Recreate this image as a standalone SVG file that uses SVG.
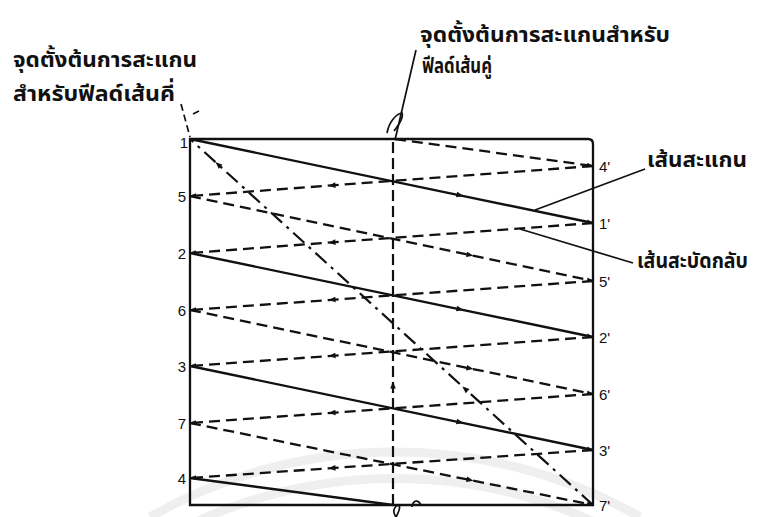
<svg xmlns="http://www.w3.org/2000/svg" width="775" height="517" viewBox="0 0 775 517">
<style>
.thai{font-family:"Noto Sans Thai","Noto Sans","DejaVu Sans",sans-serif;font-size:22px;font-weight:bold;fill:#111}
.num{font-family:"Liberation Sans",Arial,sans-serif;font-size:15px;fill:#111}
.solid{fill:none;stroke:#111;stroke-width:2.3}
.dash{fill:none;stroke:#111;stroke-width:2.3;stroke-dasharray:11 6}
.dashdot{fill:none;stroke:#111;stroke-width:2.2;stroke-dasharray:15 6 3 6}
.vdash{fill:none;stroke:#111;stroke-width:2.2;stroke-dasharray:11 5}
.lead{fill:none;stroke:#111;stroke-width:1.7}
.wm{fill:none;stroke:#efefef;stroke-width:9}
</style>
<defs>
<marker id="m" viewBox="0 0 10 10" refX="5" refY="5" markerWidth="10" markerHeight="7" orient="auto" markerUnits="userSpaceOnUse"><path d="M0,1 L10,5 L0,9 z" fill="#111"/></marker>
<marker id="e" viewBox="0 0 10 10" refX="10" refY="5" markerWidth="8" markerHeight="6" orient="auto" markerUnits="userSpaceOnUse"><path d="M0,1 L10,5 L0,9 z" fill="#111"/></marker>
</defs>
<rect width="775" height="517" fill="#fff"/>
<g id="watermark">
<path class="wm" d="M150,517 A494,494 0 0 1 640,517"/>
<path class="wm" d="M170,517 A476,476 0 0 1 620,517" transform="translate(0,18)"/>
</g>
<g id="frame">
<path class="solid" stroke-width="2.6" d="M190,139 L588,139 Q593,139 593,144 L593,505 L190,505 Z"/>
</g>
<g id="connectors">
<polyline class="solid" points="190,139 460,195.3 593,223" marker-mid="url(#m)" marker-end="url(#e)"/>
<polyline class="solid" points="190,253 460,309.3 593,337" marker-mid="url(#m)" marker-end="url(#e)"/>
<polyline class="solid" points="190,366 460,422.3 593,450" marker-mid="url(#m)" marker-end="url(#e)"/>
<polyline class="solid" points="190,478 393,505"/>
<polyline class="dash" points="395,139 593,166" marker-end="url(#e)"/>
<polyline class="dash" points="190,196 470,255.1 593,281" marker-mid="url(#m)" marker-end="url(#e)"/>
<polyline class="dash" points="190,310 470,368.4 593,394" marker-mid="url(#m)" marker-end="url(#e)"/>
<polyline class="dash" points="190,423 470,480 593,505" marker-mid="url(#m)" marker-end="url(#e)"/>
<polyline class="dash" points="593,166 332,185.4 190,196" marker-mid="url(#m)" marker-end="url(#e)"/>
<polyline class="dash" points="593,223 332,242.4 190,253" marker-mid="url(#m)" marker-end="url(#e)"/>
<polyline class="dash" points="593,281 332,299.8 190,310" marker-mid="url(#m)" marker-end="url(#e)"/>
<polyline class="dash" points="593,337 332,355.8 190,366" marker-mid="url(#m)" marker-end="url(#e)"/>
<polyline class="dash" points="593,394 332,412.8 190,423" marker-mid="url(#m)" marker-end="url(#e)"/>
<polyline class="dash" points="593,450 332,468.1 190,478" marker-mid="url(#m)" marker-end="url(#e)"/>
<polyline class="vdash" points="393,505 393,385 393,139" marker-mid="url(#m)"/>
<polyline class="dashdot" points="593,505 465,388.8 218,164.4 190,139" marker-mid="url(#m)"/>
<path class="lead" stroke-dasharray="7 4" d="M181,104 L190,137"/>
<path class="lead" d="M193,114 L199,111"/>
<path class="lead" d="M416,50 L395,140"/>
<path class="lead" d="M387,133 C389,122 396,114 402,113 C404,118 398,126 394,131"/>
<path class="lead" d="M645,169 L535,210"/>
<path class="lead" d="M633,263 L520,229"/>
<path class="lead" d="M396,517 C392,512 394,506 399,505 C401,509 398,513 396,517"/>
<path class="lead" d="M412,507 C413,500 418,499 421,505"/>
</g>
<g id="labels-left" class="num" text-anchor="end">
<text x="188" y="148">1</text>
<text x="186" y="202">5</text>
<text x="186" y="259">2</text>
<text x="186" y="316">6</text>
<text x="186" y="372">3</text>
<text x="186" y="429">7</text>
<text x="186" y="484">4</text>
</g>
<g id="labels-right" class="num">
<text x="599" y="172">4'</text>
<text x="599" y="229">1'</text>
<text x="599" y="287">5'</text>
<text x="599" y="343">2'</text>
<text x="599" y="400">6'</text>
<text x="599" y="456">3'</text>
<text x="599" y="511">7'</text>
</g>
<g id="label-odd-start">
<text class="thai" x="13" y="67" textLength="184" lengthAdjust="spacingAndGlyphs">จุดตั้งต้นการสะแกน</text>
<text class="thai" x="13" y="101" textLength="162" lengthAdjust="spacingAndGlyphs">สำหรับฟีลด์เส้นคี่</text>
</g>
<g id="label-even-start">
<text class="thai" x="420" y="42" textLength="250" lengthAdjust="spacingAndGlyphs">จุดตั้งต้นการสะแกนสำหรับ</text>
<text class="thai" x="422" y="73" textLength="70" lengthAdjust="spacingAndGlyphs">ฟีลด์เส้นคู่</text>
</g>
<g id="label-scan">
<text class="thai" x="647" y="167" textLength="100" lengthAdjust="spacingAndGlyphs">เส้นสะแกน</text>
</g>
<g id="label-retrace">
<text class="thai" x="637" y="268" textLength="111" lengthAdjust="spacingAndGlyphs">เส้นสะบัดกลับ</text>
</g>
</svg>
